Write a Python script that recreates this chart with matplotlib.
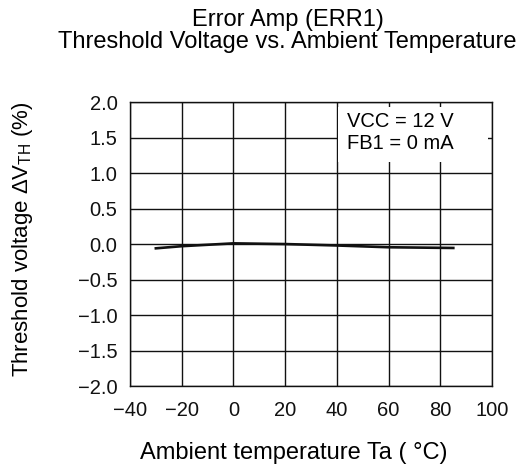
import matplotlib
matplotlib.use('Agg')
import matplotlib.pyplot as plt
from matplotlib.patches import Rectangle

plt.rcParams['font.family'] = ['Liberation Sans', 'DejaVu Sans']
plt.rcParams['mathtext.default'] = 'regular'
plt.rcParams['axes.unicode_minus'] = True

temps = [-30, -20, 0, 20, 40, 60, 85]
dvth = [-0.06, -0.03, 0.01, 0.0, -0.02, -0.045, -0.055]
xticks = [-40, -20, 0, 20, 40, 60, 80, 100]
yticks = [-2.0, -1.5, -1.0, -0.5, 0.0, 0.5, 1.0, 1.5, 2.0]

fig = plt.figure(figsize=(5.21, 4.68), dpi=100)
ax = fig.add_axes([0.2495, 0.175, 0.695, 0.607])

ax.plot(temps, dvth, color='#111111', lw=1.9, zorder=3)

ax.set_xlim(-40, 100)
ax.set_ylim(-2, 2)
ax.set_xticks(xticks)
ax.set_yticks(yticks)
ax.set_yticklabels(['\u22122.0', '\u22121.5', '\u22121.0', '\u22120.5', '0.0', '0.5', '1.0', '1.5', '2.0'])
ax.set_xticklabels(['\u221240', '\u221220', '0', '20', '40', '60', '80', '100'])
ax.tick_params(length=0, labelsize=14.5, colors='#111111')
ax.tick_params(axis='x', pad=10.5)
ax.tick_params(axis='y', pad=9)
ax.grid(True, color='#111111', lw=1.0)
for s in ax.spines.values():
    s.set_color('#111111')
    s.set_linewidth(1.0)

# white box behind the condition text
ax.add_patch(Rectangle((0.575, 0.789), 0.414, 0.193, transform=ax.transAxes,
                       facecolor='white', edgecolor='none', zorder=2.5))
ax.text(0.600, 0.965, 'VCC = 12 V\nFB1 = 0 mA', transform=ax.transAxes,
        fontsize=14.5, va='top', ha='left', linespacing=1.2, zorder=4)

fig.text(0.552, 0.957, 'Error Amp (ERR1)', ha='center', va='center', fontsize=17)
fig.text(0.552, 0.910, 'Threshold Voltage vs. Ambient Temperature', ha='center', va='center', fontsize=17)
fig.text(0.564, 0.032, 'Ambient temperature Ta ( \u00b0C)', ha='center', va='center', fontsize=17)
fig.text(0.044, 0.49, r'Threshold voltage $\Delta$V$_{TH}$ (%)', rotation=90,
         ha='center', va='center', fontsize=16)

fig.savefig('out.png', dpi=100)
